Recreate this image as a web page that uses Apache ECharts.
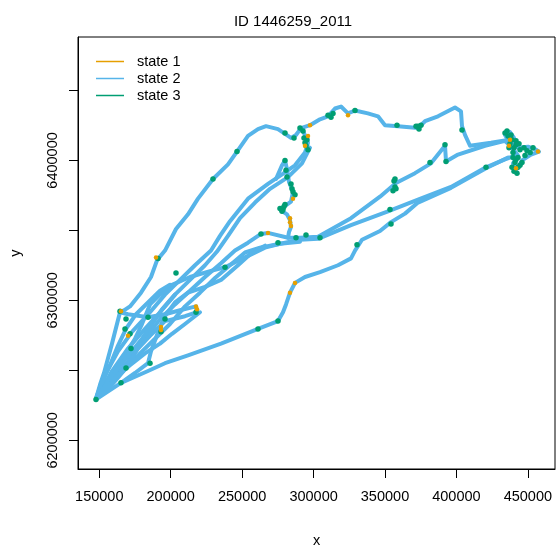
<!DOCTYPE html>
<html>
<head>
<meta charset="utf-8">
<script src="https://cdn.jsdelivr.net/npm/echarts@6/dist/echarts.min.js"></script>
<style>
html,body{margin:0;padding:0;background:#fff;}
#chart{width:559px;height:553px;}
</style>
</head>
<body>
<div id="chart"></div>
<script>
// ---- data (projected coordinates, metres) ----
const titleText = 'ID 1446259_2011';
const xTicks = [150000, 200000, 250000, 300000, 350000, 400000, 450000];
const yTicks = [6200000, 6250000, 6300000, 6350000, 6400000, 6450000];
const yLabelTicks = [6200000, 6300000, 6400000];
const stateNames = ['state 1', 'state 2', 'state 3'];

// state 2 track segments
const routeA = [[147700,6229900],[150500,6239700],[153300,6248100],[156100,6258600],[158900,6269100],[161000,6277500],[163100,6285900],[164500,6291500],[167300,6292900],[171500,6295700],[179200,6305500],[186200,6316700],[190400,6328600],[196000,6335600],[203700,6351000],[212100,6361500],[219100,6372700],[229600,6386700],[240100,6397200],[246400,6406300],[254100,6417500],[261100,6422400],[266700,6424500],[275100,6422400],[284200,6416100],[287700,6418200],[291200,6423100],[297500,6425200],[304500,6429400],[310100,6431500],[315000,6437100],[319200,6438500],[324100,6433600],[329000,6435700],[338000,6433600],[345100,6431500],[350000,6425200],[359100,6424500],[373100,6423100],[378000,6428000],[387100,6431500],[399000,6437800],[403200,6435000],[403900,6424500],[406000,6418200],[409500,6410500],[424200,6412600],[436100,6414700]];
const routeB = [[436100,6414700],[434000,6418200],[437500,6420300],[440300,6416100],[438900,6410500],[443100,6409100],[450100,6409800],[455700,6407700],[457800,6406300],[452200,6404200],[445900,6400000],[443100,6395100],[441000,6392300],[439600,6397900],[443100,6403500],[438900,6409100]];
const routeC = [[438900,6409100],[434000,6414000],[420000,6410500],[401100,6404200],[392700,6399300],[392000,6410500],[382200,6397900],[371000,6390900],[357700,6383900],[346500,6374100],[326200,6358700],[303100,6345400],[290500,6344700],[282100,6344700],[268100,6348200],[263200,6347500],[254100,6341200],[245000,6335600],[235200,6326500],[224000,6316700],[213500,6306900],[203000,6297100],[192500,6286600],[182000,6272600],[170100,6256500],[158900,6242500],[149100,6231300]];
const routeD = [[148400,6230600],[157500,6239700],[168000,6250900],[178500,6262100],[189000,6272600],[199500,6283100],[210000,6295700],[220500,6305500],[231000,6316000],[241500,6325100],[252000,6334200],[262500,6337700],[273000,6339800],[290500,6343300],[303100,6344000],[326200,6353800],[352100,6363600],[373100,6372000],[396200,6381100],[420700,6395100],[434000,6400700],[441000,6403500]];
const routeE = [[147700,6229200],[165200,6241100],[184100,6249500],[196000,6255100],[212100,6260700],[235200,6269100],[261100,6279600],[275100,6285200],[278600,6291500],[280700,6297100],[283500,6305500],[287000,6312500],[294000,6316700],[304500,6320200],[317100,6325100],[326200,6330000],[329000,6335600],[333900,6343300],[346500,6349600],[354200,6355900],[364000,6362000],[373100,6369900],[396200,6380400],[420700,6394400],[436100,6402100]];
const routeF = [[147700,6229900],[154000,6246700],[163100,6263600],[172900,6277500],[185500,6291500],[196000,6304100],[206500,6314600],[217000,6325100],[228200,6335600],[234500,6346100],[241500,6356600],[254100,6372700],[268100,6383200],[277200,6389500],[287000,6396500],[294000,6405600],[296100,6412600],[293300,6419600],[291200,6423100]];
const routeG = [[297500,6409100],[291900,6397900],[282100,6388100],[269500,6379700],[259000,6369900],[248500,6358700],[240100,6346100],[232400,6334900],[224000,6325100],[213500,6314600],[203000,6304100],[192500,6291500],[182000,6279600],[170100,6265600],[158900,6249500],[149800,6232700]];
const routeH = [[273700,6386700],[277900,6396500],[280000,6400000],[281400,6393700],[282800,6384600],[285600,6377600],[284200,6370600],[278600,6366400],[277200,6364300],[281400,6361500],[283500,6357300],[284200,6352400],[282800,6348900],[282100,6344700]];
const routeI = [[164500,6291500],[170100,6290100],[184100,6288000],[196000,6290100],[206500,6292900],[217700,6295700],[218400,6291500],[210000,6288700],[196000,6285200],[185500,6274700],[177100,6265600],[168700,6251600],[158900,6239700],[149100,6230600]];
const routeJ = [[165200,6241100],[175000,6248100],[184100,6255100],[186200,6263600],[192500,6281000],[196000,6288700],[203000,6298500],[212100,6305500],[224000,6309700],[235200,6314600],[247100,6325100],[256900,6334200],[266000,6339100]];
const routeK = [[147700,6229900],[153300,6237600],[161000,6248100],[168000,6260700],[175000,6272600],[179900,6283100],[185500,6297100],[192500,6304100],[200900,6311100],[213500,6316700],[227500,6320900],[238000,6323700],[252000,6330700],[266000,6337700],[276500,6340500],[290500,6341900]];
const routeM = [[147700,6229900],[151900,6241100],[157500,6253700],[163100,6267700],[168700,6279600],[175700,6290100],[184100,6298500],[192500,6306900],[199500,6311100]];
const routeN = [[148400,6230600],[156100,6242500],[163100,6251600],[171500,6262100],[179900,6272600],[186900,6283100],[193900,6293600],[203000,6304100]];
const routeO = [[149100,6231300],[161000,6244600],[171500,6253700],[182000,6262100],[192500,6269100],[200900,6276100],[210000,6283100],[220500,6291500]];

// state 3 fixes
const state3Points = [[147700,6229200],[165200,6241100],[168700,6251600],[172200,6265600],[185500,6255100],[164500,6292200],[168700,6286600],[168000,6279600],[171500,6276100],[184100,6288000],[196000,6286600],[193200,6277500],[217700,6291500],[191100,6330000],[203700,6319500],[238000,6323700],[261100,6279600],[275100,6285200],[229600,6386700],[246400,6406300],[280000,6419600],[286300,6416100],[290500,6423100],[294000,6412600],[294700,6410500],[296100,6407700],[293300,6416100],[292600,6421000],[295400,6414700],[310100,6432200],[312200,6430800],[313600,6433600],[329000,6435700],[358400,6425200],[371700,6424500],[373100,6424500],[373800,6422400],[375200,6425200],[403900,6421700],[392000,6411200],[392700,6399300],[381500,6398600],[356300,6385300],[357000,6381100],[355600,6378300],[357700,6379700],[357000,6386700],[420700,6395100],[353500,6365000],[354200,6354500],[330400,6339800],[304500,6344700],[287700,6344700],[294700,6346800],[275100,6341200],[263200,6347500],[280000,6400000],[280700,6393000],[281400,6388100],[284200,6383200],[284900,6379700],[285600,6377600],[287000,6375500],[280000,6368500],[279300,6367100],[276500,6365700],[278600,6365000],[277900,6363600],[434000,6419600],[435400,6421000],[436100,6417500],[438200,6418200],[438900,6414700],[441700,6414000],[437500,6411900],[443800,6411900],[440300,6409100],[441700,6411200],[444500,6407700],[447300,6409100],[449400,6407000],[453600,6409100],[439600,6405600],[443100,6402100],[439600,6402100],[441700,6400700],[441000,6398600],[444500,6396500],[443100,6395100],[438900,6395100],[440300,6392300],[442400,6390900],[448000,6403500],[451600,6405600],[445900,6398600],[436800,6409100]];
// state 1 fixes
const state1Points = [[165200,6292200],[170100,6274700],[193200,6281000],[193200,6278900],[217700,6295700],[218400,6293600],[189700,6330700],[283500,6305500],[287000,6312500],[268100,6348200],[285600,6372700],[283500,6358700],[283500,6355900],[284200,6353100],[297500,6425200],[296100,6417500],[294000,6410500],[324100,6432200],[437500,6414700],[436800,6410500],[457100,6406300],[441700,6394400]];

const track = [routeA, routeB, routeC, routeD, routeE, routeF, routeG, routeH, routeI, routeJ, routeK, routeM, routeN, routeO];

const colS1 = '#E69F00', colS2 = '#56B4E9', colS3 = '#009E73';
const FONT = 'Liberation Sans, Arial, sans-serif';

const series = [];
track.forEach(function (r) {
  series.push({
    name: stateNames[1], type: 'line', data: r, showSymbol: false, symbol: 'none',
    lineStyle: { color: colS2, width: 4, cap: 'round', join: 'round' },
    itemStyle: { color: colS2 }, emphasis: { disabled: true }, z: 2
  });
});
series.push({
  name: stateNames[2], type: 'scatter', data: state3Points, symbolSize: 5.5,
  itemStyle: { color: colS3, opacity: 1 }, emphasis: { disabled: true }, z: 3
});
series.push({
  name: stateNames[0], type: 'scatter', data: state1Points, symbolSize: 4.5,
  itemStyle: { color: colS1, opacity: 1 }, emphasis: { disabled: true }, z: 4
});

function plain(v) { return String(v); }

const chart = echarts.init(document.getElementById('chart'), null, { renderer: 'canvas' });
chart.setOption({
  animation: false,
  backgroundColor: '#fff',
  title: {
    text: titleText, left: 288, top: 9, textAlign: 'center',
    textStyle: { fontFamily: FONT, fontSize: 15, fontWeight: 'normal', color: '#000' }
  },
  legend: {
    orient: 'vertical', left: 91, top: 48, itemWidth: 28, itemHeight: 1.5, itemGap: 0,
    selectedMode: false,
    data: stateNames.map(function (n) { return { name: n, icon: 'rect' }; }),
    textStyle: { fontFamily: FONT, fontSize: 14.5, color: '#000', lineHeight: 17, padding: [0, 0, 0, 8] }
  },
  grid: { left: 78, right: 4, top: 37, bottom: 75, show: true, borderColor: '#000', borderWidth: 1, containLabel: false },
  xAxis: {
    type: 'value', min: 135100, max: 469000,
    name: 'x', nameLocation: 'middle', nameGap: 64,
    nameTextStyle: { fontFamily: FONT, fontSize: 14.5, color: '#000' },
    axisLine: { show: true, onZero: false, lineStyle: { color: '#000', width: 1 } },
    axisTick: { show: true, length: 9, customValues: xTicks, lineStyle: { color: '#000' } },
    axisLabel: { customValues: xTicks, formatter: plain, fontFamily: FONT, fontSize: 14.5, color: '#000', margin: 20 },
    splitLine: { show: false }
  },
  yAxis: {
    type: 'value', min: 6179500, max: 6488200,
    name: 'y', nameLocation: 'middle', nameGap: 55,
    nameTextStyle: { fontFamily: FONT, fontSize: 14.5, color: '#000' },
    axisLine: { show: true, onZero: false, lineStyle: { color: '#000', width: 1 } },
    axisTick: { show: true, length: 9, customValues: yTicks, lineStyle: { color: '#000' } },
    axisLabel: { customValues: yLabelTicks, formatter: plain, rotate: 90, fontFamily: FONT, fontSize: 14.5, color: '#000', margin: 18 },
    splitLine: { show: false }
  },
  series: series
});
</script>
</body>
</html>
